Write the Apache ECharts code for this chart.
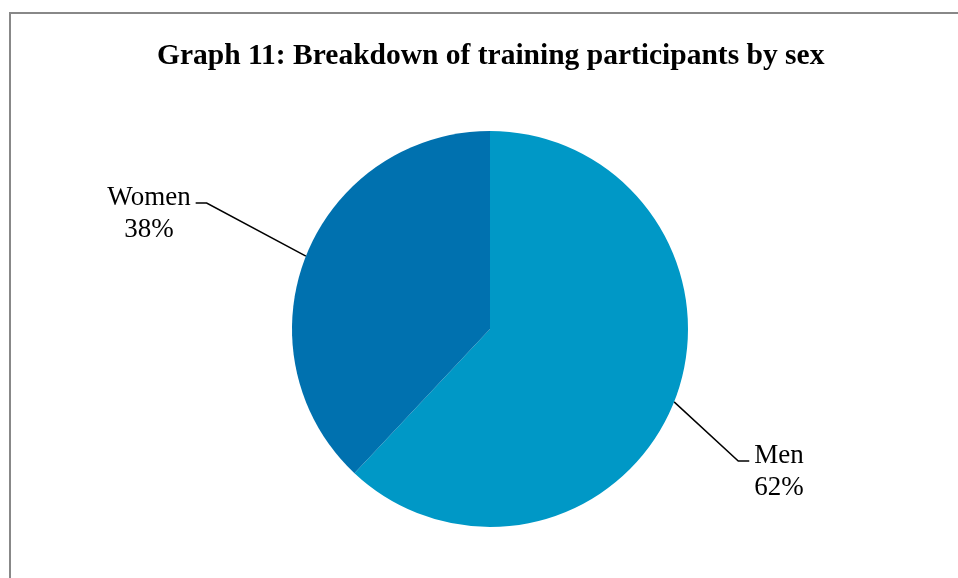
<!DOCTYPE html>
<html>
<head>
<meta charset="utf-8">
<script src="https://cdn.jsdelivr.net/npm/echarts@6/dist/echarts.min.js"></script>
<style>
  html, body { margin: 0; padding: 0; background: #fff; }
  #chart { width: 958px; height: 578px; }
</style>
</head>
<body>
<div id="chart"></div>
<script>
const titleText = 'Graph 11: Breakdown of training participants by sex';
const categories = ['Men', 'Women'];
const shares = [62, 38];
const sliceColors = ['#0098C6', '#0071AF'];

const chart = echarts.init(document.getElementById('chart'));

// where each label block sits (centre x, leader line y), Excel-style
const labelSpots = [
  { x: 779, y: 461 },
  { x: 149, y: 203 }
];

const option = {
  animation: false,
  backgroundColor: '#fff',
  title: {
    text: titleText,
    left: 152,
    top: 36,
    textStyle: {
      fontFamily: 'Liberation Serif',
      fontWeight: 'bold',
      fontSize: 29.5,
      color: '#000'
    }
  },
  graphic: [
    {
      type: 'rect',
      shape: { x: 10, y: 13, width: 1000, height: 1000 },
      style: { fill: 'none', stroke: '#888', lineWidth: 2 },
      silent: true
    }
  ],
  series: [
    {
      type: 'pie',
      center: [490, 329],
      radius: 198,
      startAngle: 90,
      clockwise: true,
      silent: true,
      emphasis: { disabled: true },
      itemStyle: { borderWidth: 0 },
      data: categories.map((c, i) => ({
        name: c,
        value: shares[i],
        itemStyle: { color: sliceColors[i] }
      })),
      label: {
        show: true,
        // empty first row pushes the text below the leader line
        formatter: p => '{gap|}\n' + p.name + '\n' + p.value + '%',
        fontFamily: 'Liberation Serif',
        fontSize: 27,
        lineHeight: 32,
        color: '#000',
        align: 'center',
        padding: [0, 5, 0, 5],
        rich: {
          gap: { lineHeight: 22, fontSize: 1 }
        }
      },
      labelLine: {
        show: true,
        length: 20,
        length2: 11,
        lineStyle: { color: '#000', width: 1.5 }
      },
      labelLayout: function (p) {
        const s = labelSpots[p.dataIndex];
        return { x: s.x, y: s.y, align: 'center', verticalAlign: 'middle' };
      }
    }
  ]
};

chart.setOption(option);
</script>
</body>
</html>
